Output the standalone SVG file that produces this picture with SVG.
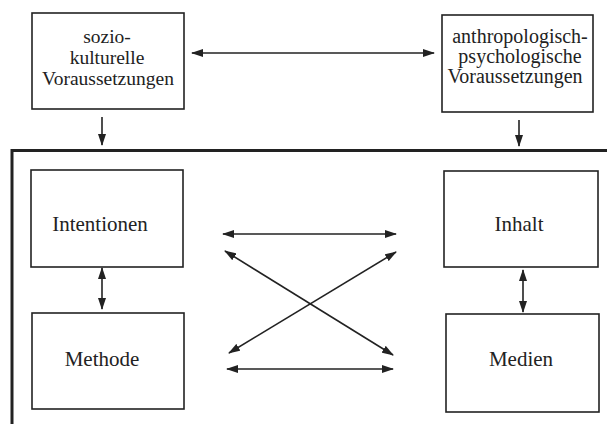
<svg xmlns="http://www.w3.org/2000/svg" width="607" height="424" viewBox="0 0 607 424">
<style>
.box{fill:#fff;stroke:#222;stroke-width:1.6}
.t{font-family:"Liberation Serif","Times New Roman",serif;font-size:21px;fill:#222;text-anchor:middle}
.s{font-size:19.5px}
.s2{font-size:20px}
.c{stroke:#222;stroke-width:1.6;fill:none;marker-start:url(#ah);marker-end:url(#ah)}
.d{stroke:#222;stroke-width:1.6;fill:none;marker-end:url(#ah)}
.frame{fill:none;stroke:#222;stroke-width:3}
</style>
<defs>
<marker id="ah" viewBox="0 0 12 8" refX="11" refY="4" markerWidth="12" markerHeight="8" markerUnits="userSpaceOnUse" orient="auto-start-reverse">
<path d="M0,0 L12,4 L0,8 Z" fill="#222"/>
</marker>
</defs>
<rect width="607" height="424" fill="#fff"/>
<path class="frame" d="M12,424 V150.5 H607"/>
<g id="sozio">
<rect class="box" x="32" y="13" width="152" height="96"/>
<text class="t s" x="107" y="43">sozio-</text>
<text class="t s" x="107" y="64">kulturelle</text>
<text class="t s" x="108" y="85">Voraussetzungen</text>
</g>
<g id="anthropo">
<rect class="box" x="442" y="15" width="151" height="97"/>
<text class="t s2" x="520" y="43">anthropologisch-</text>
<text class="t s2" x="520" y="63">psychologische</text>
<text class="t s2" x="515" y="83">Voraussetzungen</text>
</g>
<g id="intentionen">
<rect class="box" x="31" y="170" width="152" height="97"/>
<text class="t" x="100" y="231">Intentionen</text>
</g>
<g id="methode">
<rect class="box" x="32" y="313" width="152" height="96"/>
<text class="t" x="102" y="366">Methode</text>
</g>
<g id="inhalt">
<rect class="box" x="444" y="171" width="154" height="96"/>
<text class="t" x="519" y="231">Inhalt</text>
</g>
<g id="medien">
<rect class="box" x="446" y="314" width="153" height="98"/>
<text class="t" x="521" y="366">Medien</text>
</g>
<g id="connectors">
<line class="c" x1="192" y1="53" x2="434" y2="53"/>
<line class="d" x1="102" y1="117" x2="102" y2="145"/>
<line class="d" x1="519" y1="120" x2="519" y2="146"/>
<line class="c" x1="102" y1="268" x2="102" y2="309"/>
<line class="c" x1="523" y1="270" x2="523" y2="312"/>
<line class="c" x1="223" y1="234" x2="396" y2="234"/>
<line class="c" x1="225" y1="251" x2="393" y2="355"/>
<line class="c" x1="229" y1="353" x2="396" y2="252"/>
<line class="c" x1="227" y1="369" x2="393" y2="369"/>
</g>
</svg>
